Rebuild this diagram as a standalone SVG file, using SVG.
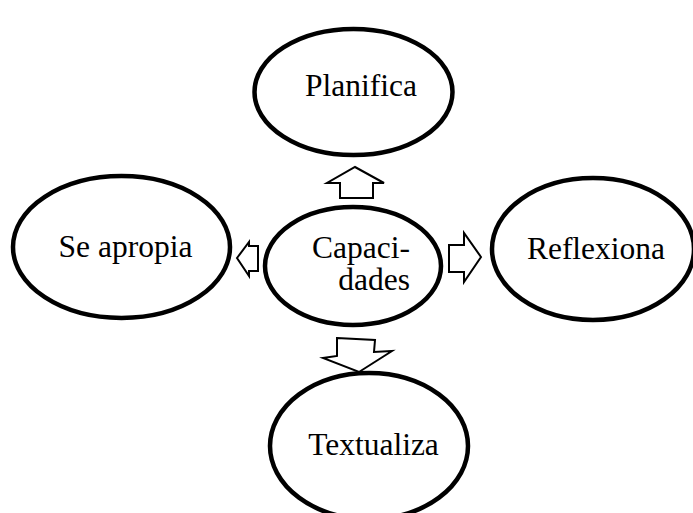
<svg xmlns="http://www.w3.org/2000/svg" width="693" height="513" viewBox="0 0 693 513">
<style>
.node{fill:#fff;stroke:#000;stroke-width:4.5}
.arr{fill:#fff;stroke:#000;stroke-width:2;stroke-linejoin:miter}
.t{font-family:'Liberation Serif','Times New Roman','DejaVu Serif',serif;font-size:31.5px;fill:#000}
</style>
<rect width="693" height="513" fill="#fff"/>
<g id="connectors">
<polygon class="arr" points="355,167 384,183 373,183 373,198 340,198 340,183 327,183"/>
<polygon class="arr" points="237,258 249,242 249,246 258,246 258,271 249,271 249,276"/>
<polygon class="arr" points="481,257 464,233 464,245 449,245 449,272 464,272 464,282"/>
<polygon class="arr" points="337,338 375,340 374,352 392,351 359,372 323,358 337,356"/>
</g>
<g id="planifica">
<ellipse class="node" cx="353.5" cy="92" rx="99" ry="63"/>
<text class="t" font-family="Liberation Serif, serif" x="361" y="96" text-anchor="middle">Planifica</text>
</g>
<g id="seapropia">
<ellipse class="node" cx="121.5" cy="247" rx="108.5" ry="71"/>
<text class="t" font-family="Liberation Serif, serif" x="125.5" y="257" text-anchor="middle">Se apropia</text>
</g>
<g id="capacidades">
<ellipse class="node" cx="353" cy="266" rx="88" ry="59"/>
<text class="t" font-family="Liberation Serif, serif" x="410" y="258" text-anchor="end">Capaci-</text>
<text class="t" font-family="Liberation Serif, serif" x="410" y="290" text-anchor="end">dades</text>
</g>
<g id="reflexiona">
<ellipse class="node" cx="593" cy="249" rx="101" ry="71"/>
<text class="t" font-family="Liberation Serif, serif" x="596" y="259" text-anchor="middle">Reflexiona</text>
</g>
<g id="textualiza">
<ellipse class="node" cx="369" cy="446" rx="99" ry="73"/>
<text class="t" font-family="Liberation Serif, serif" x="373.5" y="455" text-anchor="middle">Textualiza</text>
</g>
</svg>
